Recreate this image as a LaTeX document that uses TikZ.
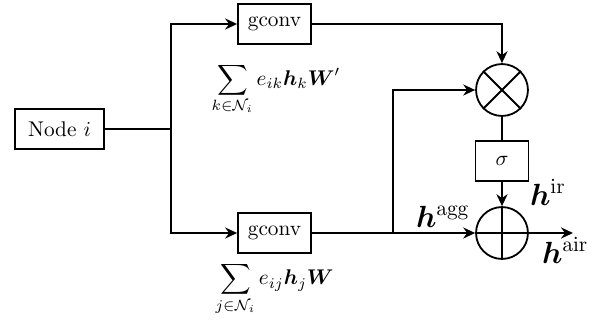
\documentclass[tikz,border=0pt]{standalone}
\usepackage{amsmath,bm}
\usetikzlibrary{arrows.meta}
\begin{document}
\begin{tikzpicture}[x=0.47pt,y=-0.47pt, line width=0.95pt,
  >={Stealth[length=5.6pt,width=5.2pt]},
  box/.style={draw, line width=0.85pt, minimum height=18.8pt, inner sep=0pt},
  opcirc/.style={draw, line width=0.85pt, circle, minimum size=24.4pt, inner sep=0pt},
  lbl/.style={inner sep=0pt}]
\useasboundingbox (0,0) rectangle (601,320);
% nodes
\node[box, minimum width=41.8pt] (node) at (59.5,129) {Node $i$};
\node[box, minimum width=34.3pt] (g1) at (274.5,24) {gconv};
\node[box, minimum width=34.3pt] (g2) at (274.5,233) {gconv};
\node[opcirc] (mul) at (502,90) {};
\node[box, minimum width=24.9pt] (sig) at (502,161) {$\sigma$};
\node[opcirc] (add) at (502,233) {};
% symbols inside circles
\draw[line width=0.85pt] (mul.north west) -- (mul.south east);
\draw[line width=0.85pt] (mul.north east) -- (mul.south west);
\draw[line width=0.85pt] (add.north) -- (add.south);
\draw[line width=0.85pt] (add.west) -- (add.east);
% helper coordinates
\coordinate (j) at (171,129);
\coordinate (b) at (393,233);
\coordinate (out) at (573,233);
% connectors
\draw (node.east) -- (j);
\draw[->] (j) |- (g1.west);
\draw[->] (j) |- (g2.west);
\draw[->] (g1.east) -| (mul.north);
\draw (mul.south) -- (sig.north);
\draw[->] (sig.south) -- (add.north);
\draw[->] (g2.east) -- (add.west);
\draw[->] (b) |- (mul.west);
\draw[->] (add.east) -- (out);
% labels
\node[lbl] (s1) at (276,89) {$\displaystyle\sum_{k\in\mathcal{N}_i} e_{ik}\bm{h}_k\bm{W}'$};
\node[lbl] (s2) at (274.5,289) {$\displaystyle\sum_{j\in\mathcal{N}_i} e_{ij}\bm{h}_j\bm{W}$};
\node[lbl, anchor=base west] (hagg) at (415,227) {\Large $\bm{h}^{\mathrm{agg}}$};
\node[lbl, anchor=base west] (hir) at (529,205) {\Large $\bm{h}^{\mathrm{ir}}$};
\node[lbl, anchor=base west] (hair) at (541,263) {\Large $\bm{h}^{\mathrm{air}}$};
\end{tikzpicture}
\end{document}
